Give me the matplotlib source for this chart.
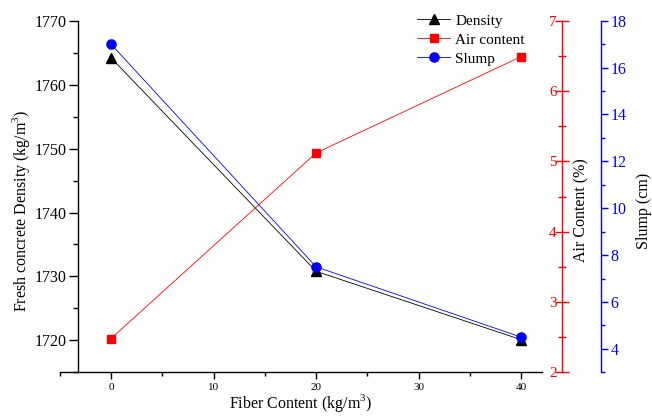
import matplotlib
matplotlib.use('Agg')
import matplotlib.pyplot as plt
from matplotlib.ticker import MultipleLocator

# ── data ─────────────────────────────────────────────────────────────────────
fiber       = [0, 20, 40]
density     = [1764.2, 1730.8, 1720.1]
air_content = [2.48, 5.12, 6.49]
slump       = [17.0, 7.5, 4.5]

plt.rcParams['font.family'] = 'Liberation Serif'
plt.rcParams['mathtext.fontset'] = 'custom'
plt.rcParams['mathtext.rm'] = 'Liberation Serif'

RED  = '#ff0000'
BLUE = '#0000ff'

fig = plt.figure(figsize=(6.52, 4.18), dpi=100)
ax = fig.add_axes([0.0916, 0.1093, 0.7393, 0.8411])
ax2 = ax.twinx()
ax3 = ax.twinx()

# ── series ───────────────────────────────────────────────────────────────────
l1, = ax.plot(fiber, density, color='black', lw=0.6, marker='^', ms=7.5,
              label='Density')
l2, = ax2.plot(fiber, air_content, color=RED, lw=0.6, marker='s', ms=5.8,
               label='Air content')
l3, = ax3.plot(fiber, slump, color=BLUE, lw=0.6, marker='o', ms=6.6,
               label='Slump')

# ── main axis (density) ──────────────────────────────────────────────────────
ax.set_xlim(-5, 42)
ax.set_ylim(1715, 1770)
ax.xaxis.set_major_locator(MultipleLocator(10))
ax.xaxis.set_minor_locator(MultipleLocator(5))
ax.yaxis.set_major_locator(MultipleLocator(10))
ax.yaxis.set_minor_locator(MultipleLocator(5))
ax.spines['top'].set_visible(False)
ax.spines['right'].set_visible(False)
ax.spines['left'].set_position(('axes', 0.0386))
for s in ('left', 'bottom'):
    ax.spines[s].set_linewidth(1.0)
ax.tick_params(axis='y', which='major', direction='out', length=6.5, width=1.0,
               labelsize=11.5, pad=2)
ax.tick_params(axis='y', which='minor', direction='out', length=3.6, width=1.0)
ax.tick_params(axis='x', which='major', direction='out', length=5, width=1.0,
               labelsize=8, pad=3)
ax.tick_params(axis='x', which='minor', direction='out', length=3, width=1.0)
ax.set_xlabel('Fiber Content (kg/m$^3$)', fontsize=11.5)
ax.xaxis.set_label_coords(0.5, -0.086)
ax.xaxis.label.set_va('center')
ax.set_ylabel('Fresh concrete Density (kg/m$^3$)', fontsize=11.5)
ax.yaxis.set_label_coords(-0.08, 0.46)
ax.yaxis.label.set_va('center')

# ── air content axis (red, labels left of spine) ─────────────────────────────
ax2.set_ylim(2, 7)
ax2.yaxis.set_major_locator(MultipleLocator(1))
ax2.yaxis.set_minor_locator(MultipleLocator(0.5))
for s in ('top', 'bottom', 'right'):
    ax2.spines[s].set_visible(False)
ax2.yaxis.tick_left()
ax2.spines['left'].set_visible(True)
ax2.spines['left'].set_position(('axes', 1.0415))
ax2.spines['left'].set_color(RED)
ax2.spines['left'].set_linewidth(1.0)
ax2.tick_params(axis='y', which='major', direction='inout', length=9.5,
                width=1.0, colors=RED, labelsize=11, pad=-1)
ax2.tick_params(axis='y', which='minor', direction='inout', length=6,
                width=1.0, colors=RED)
ax2.set_ylabel('Air Content (%)', fontsize=11.5, color='black')
ax2.yaxis.set_label_position('right')
ax2.yaxis.set_label_coords(1.0825, 0.46)
ax2.yaxis.label.set_va('center')

# ── slump axis (blue) ────────────────────────────────────────────────────────
ax3.set_ylim(3, 18)
ax3.yaxis.set_major_locator(MultipleLocator(2))
ax3.yaxis.set_minor_locator(MultipleLocator(1))
for s in ('top', 'bottom', 'left'):
    ax3.spines[s].set_visible(False)
ax3.spines['right'].set_position(('axes', 1.1224))
ax3.spines['right'].set_color(BLUE)
ax3.spines['right'].set_linewidth(1.0)
ax3.tick_params(axis='y', which='major', direction='out', length=5,
                width=1.0, colors=BLUE, labelsize=11.5, pad=2)
ax3.tick_params(axis='y', which='minor', direction='out', length=3,
                width=1.0, colors=BLUE)
ax3.set_ylabel('Slump (cm)', fontsize=11.5, color='black')
ax3.yaxis.set_label_coords(1.212, 0.46)
ax3.yaxis.label.set_va('center')

# legend, no frame, top right of the plot area
ax3.legend(handles=[l1, l2, l3], loc='upper left', frameon=False,
           bbox_to_anchor=(417 / 652, 1 - 14 / 418), bbox_transform=fig.transFigure,
           borderpad=0, borderaxespad=0, handlelength=2.16, handletextpad=0.33,
           labelspacing=0.35, fontsize=11)

fig.savefig('out.png', dpi=100)
